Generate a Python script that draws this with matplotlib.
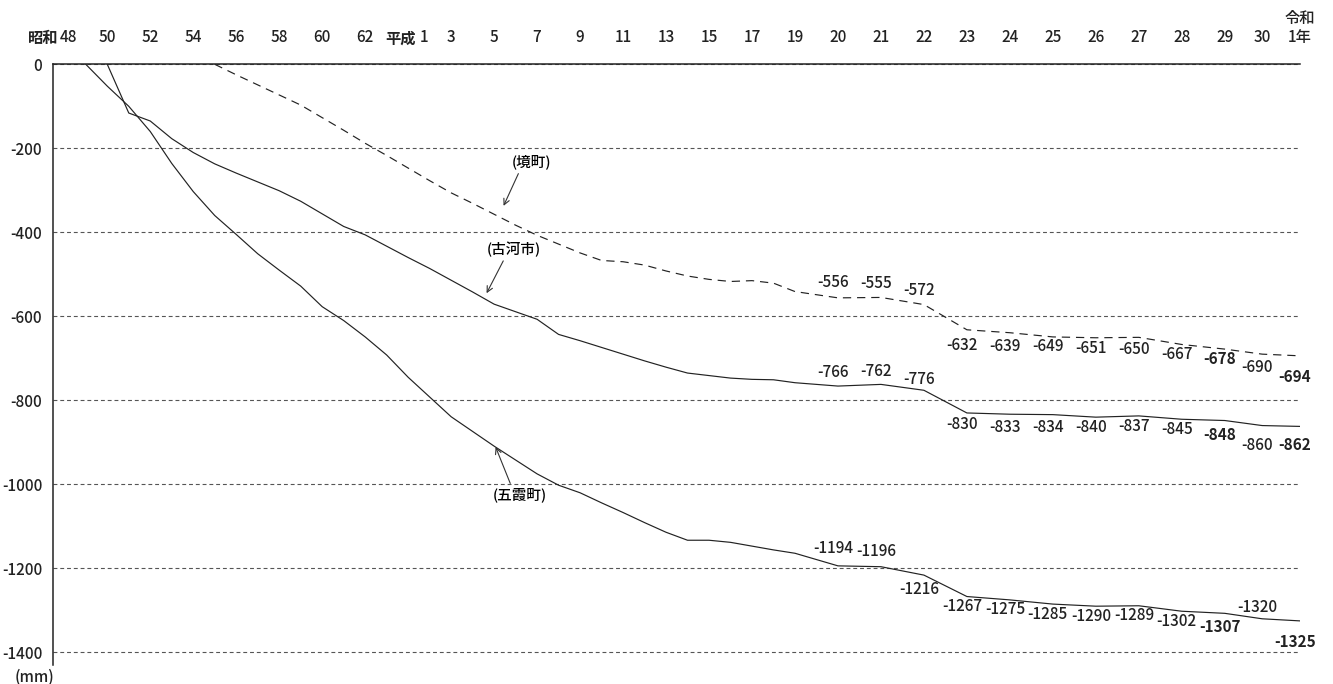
import numpy as np
import matplotlib
matplotlib.use('Agg')
import matplotlib.pyplot as plt
from matplotlib.transforms import ScaledTranslation

plt.rcParams['font.family'] = ['Noto Sans CJK JP', 'DejaVu Sans']
plt.rcParams['font.weight'] = 'medium'
plt.rcParams['axes.unicode_minus'] = False

# year axis (Showa 48 .. Reiwa 1), labels every 2 years then every year
tick_years = list(range(1973, 2008, 2)) + list(range(2008, 2020))
tick_labels = ['48', '50', '52', '54', '56', '58', '60', '62', '1',
               '3', '5', '7', '9', '11', '13', '15', '17', '19',
               '20', '21', '22', '23', '24', '25', '26', '27', '28', '29', '30',
               '令和\n1年']
tick_slots = list(range(0, 27)) + [27, 27.87, 28.75]
era_labels = ['昭和', '平成']
era_years = [1973, 1989]

y_ticks = [0, -200, -400, -600, -800, -1000, -1200, -1400]

# cumulative subsidence (mm)
koga_years = list(range(1975, 2020))
koga_mm = [0, -116, -135, -177, -210, -237, -259, -280, -301, -326,
           -356, -386, -406, -433, -460, -486, -514, -542, -571, -589,
           -607, -643, -658, -674, -690, -706, -721, -735, -741, -747,
           -750, -751, -758, -766, -762, -776, -830, -833, -834, -840,
           -837, -845, -848, -860, -862]

goka_years = list(range(1974, 2020))
goka_mm = [0, -52, -100, -160, -236, -303, -360, -405, -451, -490,
           -528, -577, -610, -649, -692, -745, -792, -839, -874, -909,
           -942, -975, -1002, -1020, -1044, -1067, -1091, -1114, -1133, -1133,
           -1138, -1147, -1156, -1164, -1194, -1196, -1216, -1267, -1275, -1285,
           -1290, -1289, -1302, -1307, -1320, -1325]

sakai_years = list(range(1980, 2020))
sakai_mm = [0, -25, -49, -73, -97, -127, -157, -188, -217, -247,
            -277, -306, -331, -357, -383, -407, -428, -449, -467, -470,
            -478, -492, -504, -512, -517, -515, -521, -541, -556, -555,
            -572, -632, -639, -649, -651, -650, -667, -678, -690, -694]

label_years = list(range(2008, 2020))
bold_values = [-678, -694, -848, -862, -1307, -1325]

# label offsets in pixels (positive = below the point)
sakai_dy = [-15, -14, -14, 16, 14, 10, 11, 12, 10, 10, 13.5, 21]
koga_dy = [-13.5, -13, -11, 12, 13, 13, 10, 11, 10, 14.5, 19.5, 18.7]
goka_dy = [-17.5, -15, 14.7, 10, 10, 10, 10, 10, 10, 13.5, -11, 21]

# uneven year axis
bp_years = np.array([1900] + tick_years + [2100], dtype=float)
bp_slots = np.array([(1900 - 1973) * 0.5] + tick_slots + [28.75 + (2100 - 2019) * 0.88])


def fwd(x):
    return np.interp(x, bp_years, bp_slots)


def inv(s):
    return np.interp(s, bp_slots, bp_years)


fig = plt.figure(figsize=(13.33, 6.84), dpi=100)
ax = fig.add_axes([53.3 / 1333, 1 - 665 / 684, (1300 - 53.3) / 1333, (665 - 64.3) / 684])
ax.set_xscale('function', functions=(fwd, inv))
ax.set_xlim(inv(-0.256), 2019)
ax.set_ylim(-1430, 0)

ax.plot(sakai_years, sakai_mm, color='#222222', lw=0.85, ls=(0, (7, 5)))
ax.plot(koga_years, koga_mm, color='#222222', lw=0.85)
ax.plot(goka_years, goka_mm, color='#222222', lw=0.85)

for years, vals, dys in [(sakai_years, sakai_mm, sakai_dy),
                         (koga_years, koga_mm, koga_dy),
                         (goka_years, goka_mm, goka_dy)]:
    for yr, dy in zip(label_years, dys):
        v = vals[years.index(yr)]
        ax.annotate(str(v), xy=(yr, v), xytext=(-5, -dy), textcoords='offset pixels',
                    ha='center', va='center', fontsize=11, color='#222222',
                    fontweight='bold' if v in bold_values else 'medium')

# callouts
arrow = dict(arrowstyle='->', color='#333333', lw=0.8, shrinkA=1, shrinkB=0)
ax.annotate('(境町)', xy=(1993.44, -337), xytext=(1994.73, -233), ha='center', va='center',
            fontsize=10.5, arrowprops=dict(arrow, relpos=(0.22, 0)))
ax.annotate('(古河市)', xy=(1992.65, -545), xytext=(1993.9, -440), ha='center', va='center',
            fontsize=10.5, arrowprops=dict(arrow, relpos=(0.35, 0)))
ax.annotate('(五霞町)', xy=(1993.07, -911), xytext=(1994.18, -1025), ha='center', va='center',
            fontsize=10.5, arrowprops=dict(arrow, relpos=(0.36, 1)))

ax.xaxis.tick_top()
ax.set_xticks(tick_years)
ax.set_xticklabels(tick_labels)
ax.tick_params(axis='x', length=0, pad=13, labelsize=11, colors='#222222')
xlbls = ax.get_xticklabels()
for i, shift in [(0, 4), (8, 16)]:
    xlbls[i].set_transform(xlbls[i].get_transform() + ScaledTranslation(shift / 100, 0, fig.dpi_scale_trans))

# era names in bold before the first year of each era
for name, yr, dx in zip(era_labels, era_years, [-6, 8]):
    ax.annotate(name, xy=(yr, 1), xycoords=ax.get_xaxis_transform(), xytext=(dx, 18),
                textcoords='offset pixels', ha='right', va='bottom', fontsize=11,
                fontweight='bold', color='#222222')

ax.set_yticks(y_ticks)
ax.tick_params(axis='y', length=0, pad=8, labelsize=11, colors='#222222')
ax.yaxis.grid(True, color='#555555', lw=0.8, ls=(0, (3.5, 2.6)))
ax.set_axisbelow(True)

for s in ['right', 'bottom']:
    ax.spines[s].set_visible(False)
for s in ['top', 'left']:
    ax.spines[s].set_color('#222222')
    ax.spines[s].set_linewidth(1.1)

fig.text(34 / 1333, 1 - 677 / 684, '(mm)', ha='center', va='center', fontsize=11, color='#222222')

fig.savefig('out.png', dpi=100)
